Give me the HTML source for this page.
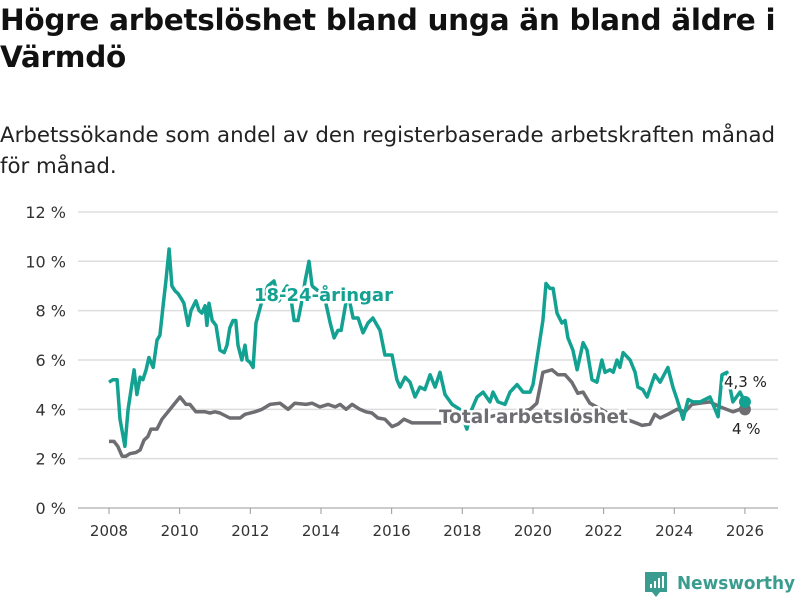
<!DOCTYPE html>
<html><head><meta charset="utf-8"><style>
body{margin:0;width:800px;height:600px;background:#fff;font-family:"Liberation Sans","DejaVu Sans",sans-serif;overflow:hidden;position:relative}
h1{position:absolute;left:0;top:2px;margin:0;font-family:"DejaVu Sans",sans-serif;font-size:29.5px;line-height:37px;font-weight:bold;color:#111;letter-spacing:-0.3px;white-space:nowrap}
p{position:absolute;left:0;top:120px;margin:0;font-family:"DejaVu Sans",sans-serif;font-size:21.3px;line-height:31px;color:#222;white-space:nowrap}
svg{position:absolute;left:0;top:0}
</style></head><body>
<h1>Högre arbetslöshet bland unga än bland äldre i<br>Värmdö</h1>
<p>Arbetssökande som andel av den registerbaserade arbetskraften månad<br>för månad.</p>
<svg id="c" width="800" height="600"></svg>
<script>
const yTicks=[0,2,4,6,8,10,12];
const xTicks=[2008,2010,2012,2014,2016,2018,2020,2022,2024,2026];
const youthDates=[2008.00,2008.11,2008.23,2008.31,2008.45,2008.54,2008.71,2008.79,2008.88,2008.96,2009.05,2009.13,2009.25,2009.36,2009.44,2009.53,2009.61,2009.70,2009.78,2009.87,2009.95,2010.04,2010.12,2010.24,2010.32,2010.46,2010.55,2010.63,2010.72,2010.77,2010.83,2010.92,2011.03,2011.14,2011.26,2011.34,2011.42,2011.51,2011.59,2011.65,2011.76,2011.85,2011.91,2011.99,2012.08,2012.16,2012.33,2012.50,2012.67,2012.81,2012.95,2013.04,2013.12,2013.24,2013.35,2013.46,2013.55,2013.66,2013.75,2013.92,2014.09,2014.26,2014.37,2014.48,2014.57,2014.74,2014.82,2014.91,2015.05,2015.19,2015.33,2015.47,2015.67,2015.81,2016.01,2016.15,2016.24,2016.38,2016.52,2016.66,2016.80,2016.94,2017.09,2017.23,2017.37,2017.51,2017.71,2017.93,2018.13,2018.27,2018.42,2018.59,2018.78,2018.87,2019.01,2019.21,2019.35,2019.55,2019.72,2019.92,2020.00,2020.11,2020.28,2020.37,2020.48,2020.57,2020.68,2020.82,2020.91,2020.99,2021.13,2021.25,2021.42,2021.53,2021.67,2021.81,2021.95,2022.04,2022.18,2022.27,2022.38,2022.46,2022.55,2022.75,2022.89,2022.97,2023.11,2023.23,2023.45,2023.60,2023.82,2023.96,2024.08,2024.25,2024.39,2024.53,2024.73,2025.01,2025.24,2025.35,2025.49,2025.66,2025.86,2026.00];
const youthValues=[5.1,5.2,5.2,3.6,2.5,4.0,5.6,4.6,5.3,5.2,5.6,6.1,5.7,6.8,7.0,8.2,9.2,10.5,9.0,8.8,8.7,8.5,8.3,7.4,8.0,8.4,8.0,7.9,8.2,7.4,8.3,7.6,7.4,6.4,6.3,6.6,7.3,7.6,7.6,6.6,6.0,6.6,6.0,5.9,5.7,7.5,8.4,9.0,9.2,8.4,8.8,9.0,8.8,7.6,7.6,8.4,9.2,10.0,9.0,8.8,8.6,7.5,6.9,7.2,7.2,8.6,8.3,7.7,7.7,7.1,7.5,7.7,7.2,6.2,6.2,5.2,4.9,5.3,5.1,4.5,4.9,4.8,5.4,4.9,5.5,4.6,4.2,4.0,3.2,4.0,4.5,4.7,4.3,4.7,4.3,4.2,4.7,5.0,4.7,4.7,5.0,6.0,7.6,9.1,8.9,8.9,7.9,7.5,7.6,6.9,6.4,5.6,6.7,6.4,5.2,5.1,6.0,5.5,5.6,5.5,6.0,5.7,6.3,6.0,5.5,4.9,4.8,4.5,5.4,5.1,5.7,4.9,4.4,3.6,4.4,4.3,4.3,4.5,3.7,5.4,5.5,4.3,4.7,4.3];
const totalDates=[2008.00,2008.14,2008.25,2008.37,2008.48,2008.59,2008.76,2008.88,2008.99,2009.10,2009.19,2009.36,2009.50,2009.67,2009.84,2010.01,2010.18,2010.29,2010.46,2010.72,2010.86,2011.00,2011.14,2011.42,2011.71,2011.85,2012.13,2012.33,2012.56,2012.84,2013.07,2013.26,2013.58,2013.75,2013.97,2014.20,2014.40,2014.54,2014.71,2014.88,2015.10,2015.27,2015.44,2015.61,2015.81,2016.01,2016.18,2016.35,2016.58,2016.80,2017.37,2017.93,2018.50,2019.07,2019.63,2019.92,2020.11,2020.28,2020.54,2020.71,2020.91,2021.10,2021.27,2021.42,2021.61,2022.18,2022.83,2023.09,2023.31,2023.45,2023.60,2023.82,2024.08,2024.30,2024.50,2024.73,2025.01,2025.30,2025.66,2025.86,2026.00];
const totalValues=[2.7,2.7,2.5,2.1,2.1,2.2,2.25,2.35,2.75,2.9,3.2,3.2,3.6,3.9,4.2,4.5,4.2,4.2,3.9,3.9,3.85,3.9,3.85,3.65,3.65,3.8,3.9,4.0,4.2,4.25,4.0,4.25,4.2,4.25,4.1,4.2,4.1,4.2,4.0,4.2,4.0,3.9,3.85,3.65,3.6,3.3,3.4,3.6,3.45,3.45,3.45,3.5,3.6,3.8,3.9,4.0,4.25,5.5,5.6,5.4,5.4,5.1,4.65,4.7,4.25,3.8,3.5,3.35,3.4,3.8,3.65,3.8,4.0,3.9,4.2,4.25,4.3,4.1,3.9,4.0,4.0];
const NS='http://www.w3.org/2000/svg';
const svg=document.getElementById('c');
const X=y=>109+(y-2008)*35.33;
const Y=v=>508-v*24.67;
function mk(t,a,p){const e=document.createElementNS(NS,t);for(const k in a)e.setAttribute(k,a[k]);(p||svg).appendChild(e);return e;}
yTicks.forEach(v=>{
  const g=mk('line',{x1:78,x2:778,y1:Y(v),y2:Y(v),stroke:v===0?'#bbb':'#ddd','stroke-width':1.5});
  
  
  const t=mk('text',{x:66,y:Y(v)+6,'text-anchor':'end','font-size':16,fill:'#333','font-family':'DejaVu Sans, sans-serif'});
  t.textContent=v+' %';
  
  
});
xTicks.forEach(yr=>{
  const l=mk('line',{x1:X(yr),x2:X(yr),y1:508,y2:514,stroke:'#999','stroke-width':1});
  
  
  const t=mk('text',{x:X(yr),y:536,'text-anchor':'middle','font-size':15,fill:'#333','font-family':'DejaVu Sans, sans-serif'});
  t.textContent=yr;
  
  
});
function path(d,v){return d.map((x,i)=>(i?'L':'M')+X(x).toFixed(1)+','+Y(v[i]).toFixed(1)).join('');}
const pt=mk('path',{d:path(totalDates,totalValues),fill:'none',stroke:'#6e6d72','stroke-width':3.5,'stroke-linejoin':'round'});


const py=mk('path',{d:path(youthDates,youthValues),fill:'none',stroke:'#13a192','stroke-width':3.5,'stroke-linejoin':'round'});


const lt=totalDates.length-1, ly=youthDates.length-1;
const d1=mk('circle',{cx:X(totalDates[lt]),cy:Y(totalValues[lt]),r:6,fill:'#6e6d72'});


const d2=mk('circle',{cx:X(youthDates[ly]),cy:Y(youthValues[ly]),r:6,fill:'#13a192'});


function lab(txt,x,y,size,fill,w,name){const t=mk('text',{x:x,y:y,'font-size':size,'font-weight':w,fill:fill,stroke:'#fff','stroke-width':5,'paint-order':'stroke','stroke-linejoin':'round','font-family':'DejaVu Sans, sans-serif'});t.textContent=txt;
  
  return t;}
lab('18-24-åringar',254,301,18,'#13a192','bold','youth-series-label');
lab('Total arbetslöshet',439,423,18.5,'#6e6d72','bold','total-series-label');
lab('4,3 %',724,387,15,'#222','normal','youth-end-value');
lab('4 %',732,434,15,'#222','normal','total-end-value');
const g=mk('g',{});


mk('path',{d:'M645 572h22v20h-7l-4 5-4-5h-7z',fill:'#3a9c8f'},g);
mk('rect',{x:650,y:584,width:2,height:4,fill:'#fff'},g);
mk('rect',{x:654,y:581,width:2,height:7,fill:'#fff'},g);
mk('rect',{x:658,y:578,width:2,height:10,fill:'#fff'},g);
mk('rect',{x:662,y:576,width:2,height:12,fill:'#fff'},g);
const tl=mk('text',{x:677,y:589,'font-size':18,'font-weight':'bold',fill:'#3a9c8f','font-family':'DejaVu Sans, sans-serif',textLength:118,lengthAdjust:'spacingAndGlyphs'},g);
tl.textContent='Newsworthy';
</script>
</body></html>
